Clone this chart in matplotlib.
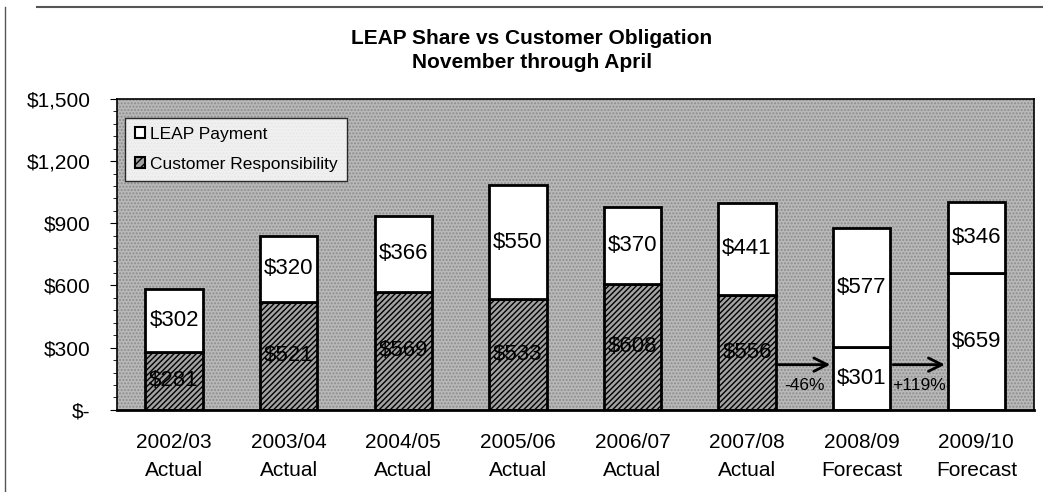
import matplotlib
matplotlib.use("Agg")
import matplotlib.pyplot as plt
from matplotlib.patches import Rectangle
import numpy as np

years = ["2002/03", "2003/04", "2004/05", "2005/06", "2006/07", "2007/08", "2008/09", "2009/10"]
kinds = ["Actual", "Actual", "Actual", "Actual", "Actual", "Actual", "Forecast", "Forecast"]
customer = [281, 521, 569, 533, 608, 556, 301, 659]
leap = [302, 320, 366, 550, 370, 441, 577, 346]
changes = ["-46%", "+119%"]
yticks = [0, 300, 600, 900, 1200, 1500]
ytick_labels = ["$-", "$300", "$600", "$900", "$1,200", "$1,500"]

plt.rcParams['font.family'] = ['Liberation Sans', 'DejaVu Sans']

fig = plt.figure(figsize=(10.43, 4.92), dpi=100)
ax = fig.add_axes([0.112, 0.167, 0.879, 0.632])
ax.set_facecolor('#b9b9b9')
ax.add_patch(Rectangle((0, 0), 1, 1, transform=ax.transAxes, facecolor='none',
                       hatch='.....', edgecolor='#8c8c8c', linewidth=0, zorder=0))

x = np.arange(len(years))
w = 0.5
forecast = [k == "Forecast" for k in kinds]
for i in x:
    if forecast[i]:
        ax.bar(i, customer[i], w, color='white', edgecolor='black', linewidth=2, zorder=2)
    else:
        ax.bar(i, customer[i], w, color='#a2a2a2', edgecolor='black', linewidth=2,
               hatch='//////', zorder=2)
    ax.bar(i, leap[i], w, bottom=customer[i], color='white', edgecolor='black', linewidth=2, zorder=2)
    ax.text(i, customer[i] / 2, f"${customer[i]}", ha='center', va='center', fontsize=16, zorder=3)
    ax.text(i, customer[i] + leap[i] / 2, f"${leap[i]}", ha='center', va='center', fontsize=16, zorder=3)

# arrows between years
for k, src in enumerate([5, 6]):
    ax.annotate("", xy=(src + 1 - w / 2, 218), xytext=(src + w / 2, 218),
                arrowprops=dict(arrowstyle='->', lw=2, color='black', mutation_scale=24), zorder=4)
    ax.text(src + 0.5, 115, changes[k], ha='center', va='center', fontsize=12.5, zorder=4)

ax.set_xlim(-0.5, len(years) - 0.5)
ax.set_ylim(0, 1500)
ax.set_yticks(yticks)
ax.set_yticklabels(ytick_labels, fontsize=15)
ax.set_yticks(np.arange(0, 1501, 60), minor=True)
ax.tick_params(axis='y', which='minor', length=3)
ax.tick_params(axis='y', which='major', length=5, pad=14)
ax.set_xticks(x)
ax.set_xticklabels([f"{y}\n{k}" for y, k in zip(years, kinds)], fontsize=15, linespacing=1.6)
ax.tick_params(axis='x', length=0, pad=17)
for s in ax.spines.values():
    s.set_linewidth(1.2)
ax.spines['bottom'].set_linewidth(2)

fig.text(0.51, 0.922, "LEAP Share vs Customer Obligation", ha='center', va='center',
         fontsize=15, fontweight='bold')
fig.text(0.51, 0.873, "November through April", ha='center', va='center',
         fontsize=15, fontweight='bold')

# legend
lp = Rectangle((0, 0), 1, 1, facecolor='white', edgecolor='black', linewidth=1.5)
cp = Rectangle((0, 0), 1, 1, facecolor='#a2a2a2', edgecolor='black', linewidth=1.5, hatch='////')
leg = ax.legend([lp, cp], ["LEAP Payment", "Customer Responsibility"], loc='upper left',
                bbox_to_anchor=(0.009, 0.94), fontsize=12.5, frameon=True, fancybox=False,
                handlelength=0.6, handleheight=0.6, handletextpad=0.3, borderpad=0.55,
                labelspacing=0.85, borderaxespad=0)
leg.get_frame().set_edgecolor('black')
leg.get_frame().set_linewidth(1)

# outer figure frame lines
fig.add_artist(plt.Line2D([0.035, 1.0], [0.985, 0.985], color='#555555', lw=1.5))
fig.add_artist(plt.Line2D([0.005, 0.005], [0.0, 0.985], color='#555555', lw=1))

fig.savefig("out.png", dpi=100)
